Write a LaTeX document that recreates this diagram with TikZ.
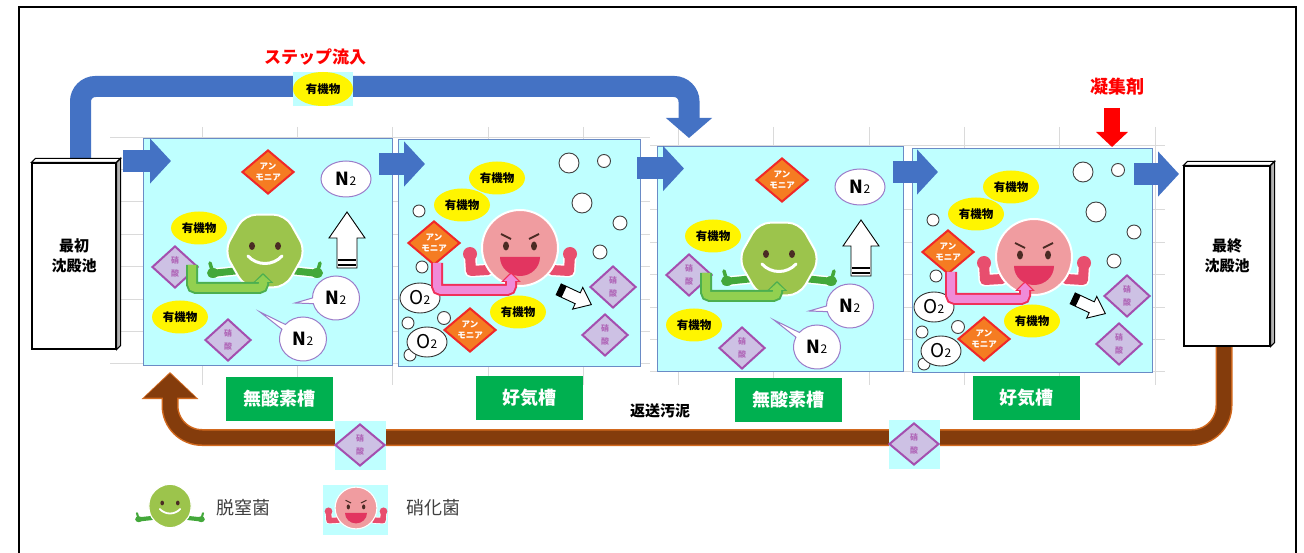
\documentclass[tikz,border=0pt]{standalone}
\usepackage{fontspec}
\setmainfont{Noto Sans CJK JP}
\usepackage{xcolor}
\usepackage{tikz}
\usetikzlibrary{positioning,arrows.meta,shapes.geometric,shapes.callouts,calc}
\definecolor{cTank}{HTML}{BFFFFF}
\definecolor{cTankEdge}{HTML}{6A8BC6}
\definecolor{cGrid}{HTML}{DADADA}
\definecolor{cFlow}{HTML}{4472C4}
\definecolor{cSludge}{HTML}{843C0C}
\definecolor{cSludgeEdge}{HTML}{D2691E}
\definecolor{cLabel}{HTML}{00B050}
\definecolor{cAmmo}{HTML}{F57C22}
\definecolor{cAmmoEdge}{HTML}{F02828}
\definecolor{cNitr}{HTML}{CDC1E4}
\definecolor{cNitrEdge}{HTML}{A44FAF}
\definecolor{cNitrText}{HTML}{B067B8}
\definecolor{cOrg}{HTML}{FFF500}
\definecolor{cGas}{HTML}{9B7CC9}
\definecolor{cDenit}{HTML}{9CC44C}
\definecolor{cDenitArm}{HTML}{43A83A}
\definecolor{cNitBody}{HTML}{F09CA0}
\definecolor{cNitArm}{HTML}{E84E6E}
\definecolor{cMouth}{HTML}{E23560}
\definecolor{cEye}{HTML}{4B2B24}
\definecolor{cBendG}{HTML}{92D050}
\definecolor{cBendGEdge}{HTML}{4CAF50}
\definecolor{cBendP}{HTML}{F08BD8}
\definecolor{cBendPEdge}{HTML}{F0305A}
\definecolor{cLegend}{HTML}{404040}

\newcommand{\Ntwo}{{\fontsize{18}{18}\selectfont\bfseries N}{\fontsize{12}{12}\selectfont 2}}
\newcommand{\Otwo}{{\fontsize{19}{19}\selectfont O}{\fontsize{12}{12}\selectfont 2}}
\newcommand{\bacw}{1}

\begin{document}
\begin{tikzpicture}[
  x=1pt, y=-1pt,
  tank/.style={draw=cTankEdge,fill=cTank,line width=0.9pt,inner sep=0pt},
  settler/.style={draw=black,fill=white,line width=1.1pt,align=center,inner sep=0pt,
    font=\fontsize{15}{20}\selectfont\bfseries},
  ammo/.style={diamond,fill=cAmmo,draw=cAmmoEdge,line width=2pt,minimum width=52pt,
    minimum height=44pt,inner sep=0pt,align=center,text=white,
    font=\fontsize{8.5}{11}\selectfont\bfseries},
  nitr/.style={diamond,fill=cNitr,draw=cNitrEdge,line width=2pt,minimum width=46pt,
    minimum height=42pt,inner sep=0pt,align=center,text=cNitrText,
    font=\fontsize{8}{13}\selectfont\bfseries},
  organic/.style={ellipse,fill=cOrg,minimum width=56pt,minimum height=33pt,inner sep=0pt,
    font=\fontsize{11.5}{11.5}\selectfont\bfseries},
  gas/.style={ellipse,fill=white,draw=cGas,line width=1pt,minimum width=50pt,
    minimum height=36pt,inner sep=0pt},
  gascall/.style={ellipse callout,fill=white,draw=cGas,line width=1pt,minimum width=47pt,
    minimum height=44pt,inner sep=0pt},
  oxy/.style={ellipse,fill=white,draw=black!80,line width=0.9pt,minimum width=40pt,
    minimum height=30pt,inner sep=0pt},
  bubble/.style={circle,fill=white,draw=black!75,line width=0.9pt,inner sep=0pt},
  tanklabel/.style={fill=cLabel,text=white,minimum width=107pt,minimum height=44pt,
    inner sep=0pt,font=\fontsize{18}{18}\selectfont\bfseries},
  flow/.style={cFlow,line width=22pt,-{Triangle[length=21pt,width=44pt]}},
  gridln/.style={cGrid,line width=0.7pt},
  gbend/.style={cBendGEdge,line width=12pt,rounded corners=4pt,-{Triangle[length=10pt,width=20pt]},
    postaction={draw=cBendG,line width=8pt,shorten >=2pt,-{Triangle[length=7pt,width=15pt]}}},
  pbend/.style={cBendPEdge,line width=12pt,rounded corners=4pt,-{Triangle[length=10pt,width=19pt]},
    postaction={draw=cBendP,line width=8pt,shorten >=2pt,-{Triangle[length=7pt,width=14pt]}}},
  denit/.pic={
    \coordinate (-c) at (0,0);
    \foreach \sx in {-1,1}{
      \draw[white,line width=\bacw*10pt,line cap=round] (\sx*30,20) -- (\sx*49,22);
      \draw[cDenitArm,line width=\bacw*7pt,line cap=round] (\sx*30,20) -- (\sx*49,22);
      \fill[cDenitArm] (\sx*52,22) ellipse (6 and 5);
      \draw[cDenitArm,line width=\bacw*3.5pt,line cap=round] (\sx*53,19) -- (\sx*55,12);
    }
    \fill[cDenit,draw=white,line width=\bacw*2pt,rounded corners=12pt]
      (0:41 and 42) \foreach \a in {60,120,...,300}{-- (\a:41 and 42)} -- cycle;
    \fill[cEye] (-13,-5) ellipse (3 and 4);
    \fill[cEye] (13,-5) ellipse (3 and 4);
    \draw[white,line width=\bacw*3pt,line cap=round] (-17,5) .. controls (-8,15) and (8,15) .. (17,5);
  },
  nitrif/.pic={
    \coordinate (-c) at (0,0);
    \foreach \sx in {-1,1}{
      \draw[white,line width=\bacw*13pt,line cap=round,line join=round] (\sx*32,22) -- (\sx*49,23) -- (\sx*50,7);
      \draw[cNitArm,line width=\bacw*10pt,line cap=round,line join=round] (\sx*32,22) -- (\sx*49,23) -- (\sx*50,7);
      \fill[cNitArm] (\sx*50,6) circle (7);
    }
    \fill[cNitBody,draw=white,line width=\bacw*2pt] (0,0) circle (38);
    \draw[cEye,line width=\bacw*1.8pt] (-19,-14) -- (-9,-9) (19,-14) -- (9,-9);
    \fill[cEye] (-14,-2) ellipse (3 and 4.5);
    \fill[cEye] (14,-2) ellipse (3 and 4.5);
    \fill[cMouth] (-20,9) -- (20,9) arc[start angle=0,end angle=180,x radius=20,y radius=19] -- cycle;
  }
]
\useasboundingbox (0,0) rectangle (1304,553);
\fill[white] (0,0) rectangle (1304,553);

% sheet grid behind the tanks
\foreach \k in {0,...,7}{
  \draw[gridln] (110,{137+32.4*\k}) -- (650,{137+32.4*\k});
  \draw[gridln] (650,{145+32.4*\k}) -- (1165,{145+32.4*\k});
}
\foreach \k in {0,...,10}
  \draw[gridln] ({202+95.3*\k},127) -- ({202+95.3*\k},385);

% tanks
\node[tank,minimum width=249pt,minimum height=227pt] (t1) at (267.5,251.5) {};
\node[tank,minimum width=242pt,minimum height=227pt] (t2) at (519,252.5) {};
\node[tank,minimum width=246pt,minimum height=225pt] (t3) at (780,258.5) {};
\node[tank,minimum width=240pt,minimum height=224pt] (t4) at (1032,260) {};

% anoxic tanks
\foreach \dx/\dy/\tn in {0/0/1,514/8/3}{
\begin{scope}[shift={(\dx,\dy)},name prefix=t\tn-]
  \node[organic] (org1) at (199,228) {有機物};
  \node[organic] (org2) at (180,317) {有機物};
  \node[nitr] (no3a) at (175,267) {硝\\酸};
  \node[nitr] (no3b) at (228,340) {硝\\酸};
  \node[ammo] (nh4) at (268,172) {アン\\モニア};
  \node[gas] (n2a) at (346,179) {\Ntwo};
  % rising gas
  \fill[white,draw=black,line width=0.9pt] (347,212) -- (365,238) -- (357,238) -- (357,268)
    -- (337,268) -- (337,238) -- (329,238) -- cycle;
  \draw[line width=2pt] (338,260) -- (356,260) (338,265.5) -- (356,265.5);
  \pic (bac) at (265,251) {denit};
  \draw[gbend] ($(no3a)+(17,-2)$) |- ($(bac-c)+(-2,37)$) -- ($(bac-c)+(-2,22)$);
  \node[gascall,callout absolute pointer={(295,303)}] (n2b) at (336,298) {\Ntwo};
  \node[gascall,callout absolute pointer={(260,312)}] (n2c) at (303,339) {\Ntwo};
\end{scope}}

% aerobic tanks
\foreach \dx/\dy/\tn in {0/0/2,514/9/4}{
\begin{scope}[shift={(\dx,\dy)},name prefix=t\tn-]
  \foreach \bx/\by/\br in {569/163/10,604/161/6.5,582/203/10,620/223/7,600/252/7,
      419/211/6,422/267/6,444/318/6.5,408/323/6,410/355/6}
    \node[bubble,minimum size=2*\br] (bub\bx) at (\bx,\by) {};
  \node[organic] (org1) at (497,178) {有機物};
  \node[organic] (org2) at (462,205) {有機物};
  \node[organic] (org3) at (518,312) {有機物};
  \node[oxy] (o2a) at (420,298) {\Otwo};
  \node[oxy] (o2b) at (427,342) {\Otwo};
  \node[ammo] (nh4a) at (434,243) {アン\\モニア};
  \node[ammo] (nh4b) at (470,330) {アン\\モニア};
  \node[nitr] (no3a) at (613,287) {硝\\酸};
  \node[nitr] (no3b) at (605,335) {硝\\酸};
  \pic (bac) at (520,248) {nitrif};
  \draw[pbend] ($(nh4a.south)+(3,-3)$) |- ($(bac-c)+(-9,42)$) -- ($(bac-c)+(-9,24)$);
  % nitrate going out
  \begin{scope}[shift={(575,297)},rotate=-25]
    \fill[white,draw=black,line width=0.9pt] (-18,-6) -- (3,-6) -- (3,-12) -- (18,0)
      -- (3,12) -- (3,6) -- (-18,6) -- cycle;
    \fill (-18,-6) rectangle (-12,6);
  \end{scope}
\end{scope}}

% step feed
\node[text=red,font=\fontsize{17}{17}\selectfont\bfseries] (steplbl) at (315,57) {ステップ流入};
\coordinate (stepin) at (80.5,160);
\coordinate (stepmid) at (689,86.5);
\coordinate (stepend) at (689,138);
\draw[cFlow,line width=21pt,-{Triangle[length=20pt,width=45pt]}]
  (stepin) [rounded corners=15pt] |- (stepmid) [rounded corners=29pt] -- (stepend);
\node[fill=cTank,minimum width=60pt,minimum height=34pt,inner sep=0pt] (orgbg) at (323,89) {};
\node[organic,minimum width=60pt,minimum height=34pt] (orgstep) at (323,89) {有機物};

% return sludge
\coordinate (rs0) at (1224,347);
\coordinate (rsb) at (170,437.5);
\coordinate (rs1) at (170,372);
\draw[cSludgeEdge,line width=17pt,rounded corners=32pt,-{Triangle[length=27pt,width=55pt]}]
  (rs0) |- (rsb) -- (rs1);
\draw[cSludge,line width=14pt,rounded corners=32pt,shorten >=1.5pt,-{Triangle[length=24pt,width=50pt]}]
  (rs0) |- (rsb) -- (rs1);
\node[font=\fontsize{15}{15}\selectfont\bfseries] (retlbl) at (660,411) {返送汚泥};
\foreach \i/\xx/\yy in {1/360/445,2/914/444}{
  \node[fill=cTank,minimum width=51pt,minimum height=49pt,inner sep=0pt] (rbg\i) at (\xx,\yy) {};
  \node[nitr,minimum width=50pt,minimum height=42pt] (rno\i) at (\xx,\yy) {硝\\酸};
}

% settling tanks
\node[settler,minimum width=84pt,minimum height=186pt] (first) at (74,256) {最初\\沈殿池};
\node[settler,minimum width=86pt,minimum height=180pt] (final) at (1227,256) {最終\\沈殿池};
\foreach \s in {first,final}{
  \filldraw[fill=white,line width=1.1pt] (\s.north west) -- ++(4,-4) -- ($(\s.north east)+(4,-4)$)
    -- (\s.north east) -- cycle;
  \filldraw[fill=black!30,line width=1.1pt] (\s.north east) -- ++(4,-4) -- ($(\s.south east)+(4,-4)$)
    -- (\s.south east) -- cycle;
}

% flow through the train
\foreach \i/\xs/\xe/\yy in {0/123/171/161,1/379/425/164,2/637/684/168.5,3/893/938/172,4/1134/1179/174}{
  \coordinate (f\i s) at (\xs,\yy);
  \coordinate (f\i e) at (\xe,\yy);
  \draw[flow] (f\i s) -- (f\i e);
}

% coagulant dosing
\node[text=red,font=\fontsize{18}{18}\selectfont\bfseries] (coag) at (1117,87) {凝集剤};
\coordinate (cgs) at (1112,108);
\coordinate (cge) at (1112,147);
\draw[red,line width=16pt,-{Triangle[length=15pt,width=31pt]}] (cgs) -- (cge);

% tank names
\node[tanklabel] (lb1) at (279,399) {無酸素槽};
\node[tanklabel] (lb2) at (529,398) {好気槽};
\node[tanklabel] (lb3) at (788,400) {無酸素槽};
\node[tanklabel] (lb4) at (1026,398) {好気槽};

% legend
\begin{scope}
  \renewcommand{\bacw}{0.6}
  \pic[scale=0.6] (legd) at (170,506) {denit};
\end{scope}
\node[text=cLegend,font=\fontsize{18}{18}\selectfont] (legdt) at (243,508) {脱窒菌};
\node[fill=cTank,minimum width=65pt,minimum height=50pt,inner sep=0pt] (legnbg) at (355.5,510) {};
\begin{scope}
  \renewcommand{\bacw}{0.55}
  \pic[scale=0.55] (legn) at (356,508) {nitrif};
\end{scope}
\node[text=cLegend,font=\fontsize{18}{18}\selectfont] (legnt) at (433,508) {硝化菌};

% frame
\draw[line width=1.6pt] (19,553) -- (19,7) -- (1296,7) -- (1296,553);
\end{tikzpicture}
\end{document}
